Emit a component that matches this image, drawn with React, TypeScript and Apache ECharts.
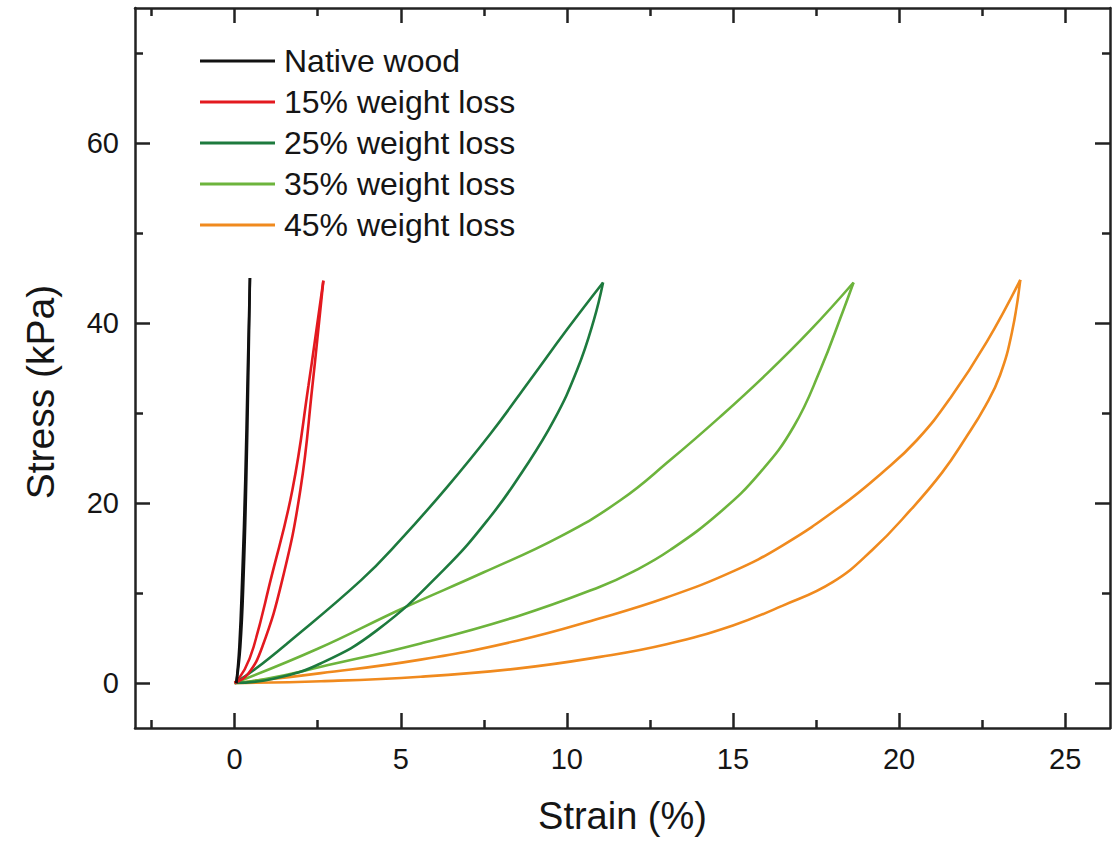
import React, { useEffect, useRef } from 'react';
import * as echarts from 'echarts';

type Pt = [number, number];

const seriesNames = ['Native wood', '15% weight loss', '25% weight loss', '35% weight loss', '45% weight loss'];
const seriesColors = ['#111111', '#e3191f', '#1d7a3e', '#6db43c', '#f08a1e'];

// each sample: loading branch and unloading branch (strain %, stress kPa)
const nativeLoad: Pt[] = [[0.05, 0], [0.14, 4], [0.23, 12], [0.32, 22.6], [0.39, 34], [0.46, 45]];
const nativeUnload: Pt[] = [[0.46, 45], [0.41, 34], [0.35, 22.6], [0.27, 12], [0.17, 4], [0.05, 0]];

const loss15Load: Pt[] = [[0, 0], [0.3, 1.5], [0.57, 4], [1.08, 11.4], [1.74, 21.5], [2.22, 33.0], [2.67, 44.7]];
const loss15Unload: Pt[] = [[2.67, 44.7], [2.34, 33.0], [1.98, 21.5], [1.43, 11.4], [0.83, 4], [0.4, 1], [0, 0]];

const loss25Load: Pt[] = [[0, 0], [0.6, 1.5], [1.58, 4.4], [3.8, 11.4], [4.99, 15.9], [6.4, 21.8], [7.7, 27.7], [8.9, 33.7], [10.01, 39.3], [11.09, 44.5]];
const loss25Unload: Pt[] = [[11.09, 44.5], [10.81, 40.3], [10.31, 34.8], [9.61, 29.2], [8.7, 23.7], [7.7, 18.5], [6.3, 12.6], [4.3, 5.9], [2.6, 2.2], [1.2, 0.5], [0, 0]];

const loss35Load: Pt[] = [[0, 0], [2.5, 3.8], [5.0, 8.2], [7.5, 12.3], [9.81, 16.3], [11.61, 20.3], [13.12, 24.8], [14.62, 29.6], [16.03, 34.4], [17.33, 39.2], [18.63, 44.5]];
const loss35Unload: Pt[] = [[18.63, 44.5], [18.3, 41.2], [17.63, 34.8], [16.83, 28.5], [15.82, 23.4], [14.62, 19.0], [13.12, 14.8], [12.01, 12.4], [11.0, 10.7], [8.5, 7.4], [5.6, 4.4], [2.6, 1.8], [1, 0.5], [0, 0]];

const loss45Load: Pt[] = [[0, 0], [2.6, 1.1], [5.6, 2.6], [8.5, 4.7], [11.0, 7.2], [13.0, 9.5], [15.0, 12.4], [16.5, 15.3], [18.23, 19.6], [19.5, 23.4], [20.54, 27.0], [21.55, 31.7], [22.64, 37.9], [23.65, 44.8]];
const loss45Unload: Pt[] = [[23.65, 44.8], [23.4, 39.0], [23.04, 34.2], [22.6, 30.8], [22.0, 27.2], [21.3, 23.4], [20.34, 19.2], [19.2, 14.8], [18.0, 11.2], [16.5, 8.6], [15.0, 6.4], [13.0, 4.3], [11.0, 2.9], [8.5, 1.6], [5.6, 0.7], [2.6, 0.2], [0, 0]];

const branches: Pt[][][] = [
  [nativeLoad, nativeUnload],
  [loss15Load, loss15Unload],
  [loss25Load, loss25Unload],
  [loss35Load, loss35Unload],
  [loss45Load, loss45Unload],
];

const xMajorTicks = [0, 5, 10, 15, 20, 25];
const xMinorTicks = [-2.5, 2.5, 7.5, 12.5, 17.5, 22.5];
const yMajorTicks = [0, 20, 40, 60];
const yMinorTicks = [10, 30, 50, 70];

const X_MIN = -3;
const X_MAX = 26.35;
const Y_MIN = -5;
const Y_MAX = 75;

const FONT = '"Liberation Sans", Arial, Helvetica, sans-serif';
const AXIS_COLOR = '#222222';

function makeAxis(kind: 'x' | 'y', position: string, major: boolean, withLine: boolean, withLabels: boolean, name?: string) {
  const ticks = kind === 'x' ? (major ? xMajorTicks : xMinorTicks) : (major ? yMajorTicks : yMinorTicks);
  const ax: any = {
    type: 'value',
    position,
    min: kind === 'x' ? X_MIN : Y_MIN,
    max: kind === 'x' ? X_MAX : Y_MAX,
    axisLine: { show: withLine, onZero: false, lineStyle: { color: AXIS_COLOR, width: 2.5 } },
    axisTick: {
      show: true,
      inside: true,
      length: major ? 15 : 8,
      customValues: ticks,
      lineStyle: { color: AXIS_COLOR, width: 2.5 },
    },
    axisLabel: withLabels
      ? { show: true, customValues: ticks, fontSize: 29, color: '#151515', fontFamily: FONT, margin: 16 }
      : { show: false },
    splitLine: { show: false },
  };
  if (name) {
    ax.name = name;
    ax.nameLocation = 'middle';
    if (kind === 'x') {
      ax.nameGap = 69;
      ax.nameTextStyle = { fontSize: 38, color: '#151515', fontFamily: FONT };
    } else {
      ax.nameGap = 75;
      ax.nameTextStyle = { fontSize: 39, color: '#151515', fontFamily: FONT, padding: [0, 48, 0, 0] };
    }
  }
  return ax;
}

export default function App() {
  const ref = useRef<HTMLDivElement>(null);

  useEffect(() => {
    document.body.style.margin = '0';
    if (!ref.current) return;
    const chart = echarts.init(ref.current, undefined, { renderer: 'svg' });

    const series: any[] = [];
    branches.forEach((pair, i) => {
      pair.forEach((data) => {
        series.push({
          type: 'line',
          name: seriesNames[i],
          data,
          xAxisIndex: 0,
          yAxisIndex: 0,
          symbol: 'none',
          showSymbol: false,
          smooth: 0.45,
          color: seriesColors[i],
          lineStyle: { color: seriesColors[i], width: 2.6 },
          z: 10 - i,
        });
      });
    });

    chart.setOption({
      animation: false,
      backgroundColor: '#ffffff',
      grid: { left: 135, right: 2, top: 8, bottom: 115, containLabel: false, outerBoundsMode: 'none' },
      legend: {
        data: seriesNames,
        orient: 'vertical',
        left: 200,
        top: 44,
        padding: 0,
        icon: 'rect',
        itemWidth: 75,
        itemHeight: 3,
        itemGap: 7,
        selectedMode: false,
        textStyle: { fontSize: 32, lineHeight: 34, color: '#151515', fontFamily: FONT, padding: [0, 0, 0, 4] },
      },
      xAxis: [
        makeAxis('x', 'bottom', true, true, true, 'Strain (%)'),
        makeAxis('x', 'bottom', false, false, false),
        makeAxis('x', 'top', true, true, false),
        makeAxis('x', 'top', false, false, false),
      ],
      yAxis: [
        makeAxis('y', 'left', true, true, true, 'Stress (kPa)'),
        makeAxis('y', 'left', false, false, false),
        makeAxis('y', 'right', true, true, false),
        makeAxis('y', 'right', false, false, false),
      ],
      series,
    });

    return () => chart.dispose();
  }, []);

  return <div ref={ref} style={{ width: 1112, height: 843 }} />;
}
